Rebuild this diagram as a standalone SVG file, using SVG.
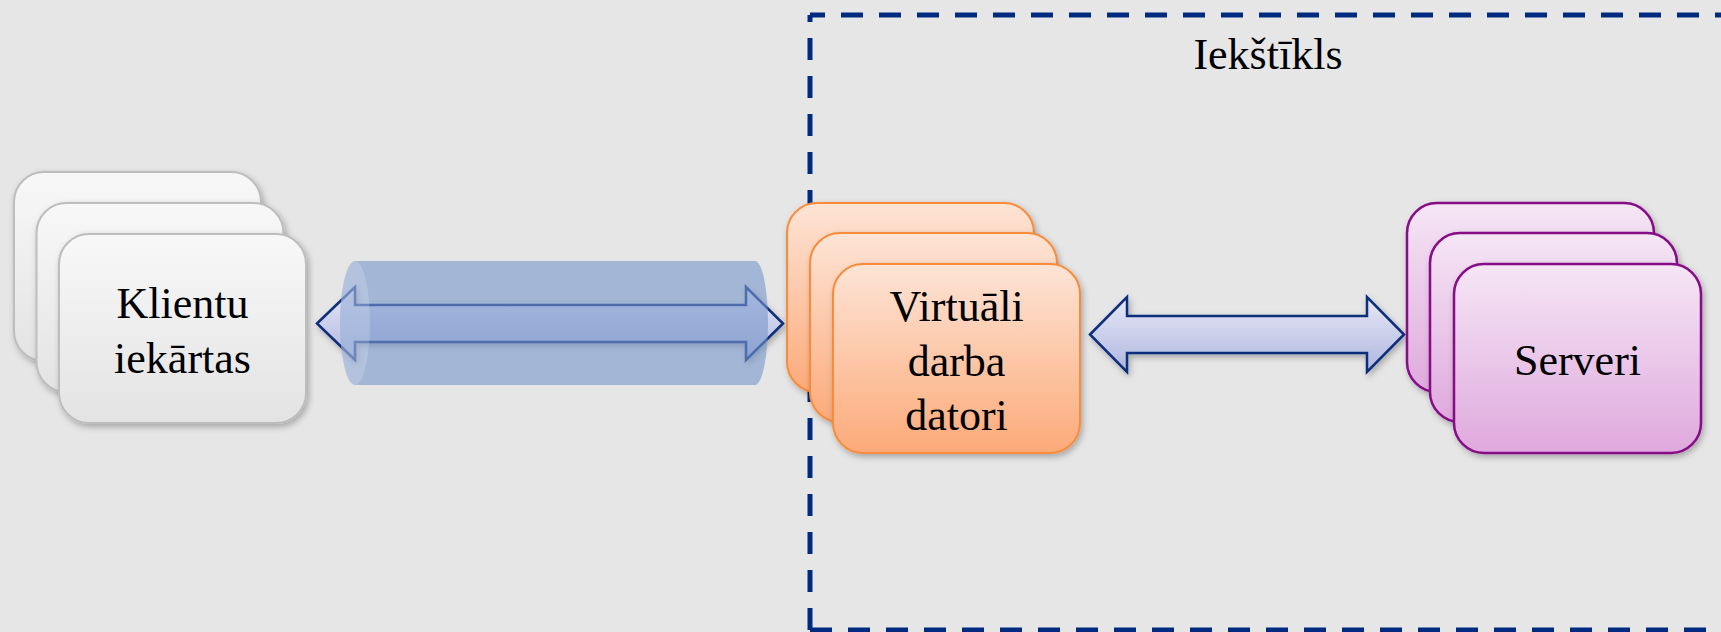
<svg xmlns="http://www.w3.org/2000/svg" width="1721" height="632" viewBox="0 0 1721 632">
<defs>
<linearGradient id="gGrey" x1="0" y1="0" x2="0" y2="1"><stop offset="0" stop-color="#f8f8f8"/><stop offset="1" stop-color="#e3e3e3"/></linearGradient>
<linearGradient id="gOrange" x1="0" y1="0" x2="0" y2="1"><stop offset="0" stop-color="#fde4d6"/><stop offset="1" stop-color="#fcaa79"/></linearGradient>
<linearGradient id="gPurple" x1="0" y1="0" x2="0" y2="1"><stop offset="0" stop-color="#f5e6f5"/><stop offset="1" stop-color="#dfa9dd"/></linearGradient>
<linearGradient id="gArrow" x1="0" y1="0" x2="0" y2="1"><stop offset="0" stop-color="#e8e9f7"/><stop offset="1" stop-color="#adb6de"/></linearGradient>
<filter id="sh" x="-10%" y="-10%" width="125%" height="130%"><feDropShadow dx="2" dy="3" stdDeviation="3" flood-color="#000" flood-opacity="0.28"/></filter>
</defs>
<style>
.bg{fill:#e6e6e6}
.frame{fill:none;stroke:#002a7f;stroke-width:5;stroke-dasharray:22 16}
.card{filter:url(#sh)}
.grey{fill:url(#gGrey);stroke:#bdbdbd;stroke-width:2}
.orange{fill:url(#gOrange);stroke:#f98b3a;stroke-width:2}
.purple{fill:url(#gPurple);stroke:#870a87;stroke-width:2.5}
.lbl{font-family:"Liberation Serif","Times New Roman",serif;font-size:44px;fill:#000;text-anchor:middle}
.arrow{fill:url(#gArrow);filter:url(#sh)}
</style>
<rect class="bg" x="0" y="0" width="1721" height="632"/>

<g id="intranet">
<line class="frame" x1="810" y1="15" x2="1730" y2="15" stroke-dashoffset="7"/>
<line class="frame" x1="810" y1="15" x2="810" y2="630" stroke-dashoffset="15"/>
<line class="frame" x1="810" y1="630" x2="1730" y2="630"/>
<text class="lbl" x="1268" y="69">Iekštīkls</text>
</g>

<g id="connectors">
<g id="tunnel">
<path class="arrow" d="M317,323.5 L355,287 L355,305 L746,305 L746,287 L783,323.5 L746,360 L746,342 L355,342 L355,360 Z" stroke="#0e2d7c" stroke-width="2.5"/>
<path d="M355,261 H755 A13,62 0 0 1 755,385 H355 A15,62 0 0 1 355,261 Z" fill="#7896cb" fill-opacity="0.6"/>
<ellipse cx="355" cy="323" rx="15" ry="62" fill="#ffffff" fill-opacity="0.18"/>
</g>
<path id="link2" class="arrow" d="M1090,334.5 L1127,297 L1127,316 L1367,316 L1367,297 L1404,334.5 L1367,372 L1367,353 L1127,353 L1127,372 Z" stroke="#0e2d7c" stroke-width="2.5" stroke-linejoin="miter"/>
</g>

<g id="clients">
<rect class="card grey" x="14" y="172" width="247" height="189" rx="30"/>
<rect class="card grey" x="36.5" y="203" width="247" height="189" rx="30"/>
<rect class="card grey" x="59" y="234" width="247" height="189" rx="30"/>
<text class="lbl" x="182.5" y="318">Klientu</text>
<text class="lbl" x="182.5" y="373">iekārtas</text>
</g>

<g id="virtual-desktops">
<rect class="card orange" x="787" y="203" width="247" height="189" rx="30"/>
<rect class="card orange" x="810" y="233" width="247" height="189" rx="30"/>
<rect class="card orange" x="833" y="264" width="247" height="189" rx="30"/>
<text class="lbl" x="956.5" y="321">Virtuāli</text>
<text class="lbl" x="956.5" y="375.5">darba</text>
<text class="lbl" x="956.5" y="430">datori</text>
</g>

<g id="servers">
<rect class="card purple" x="1407" y="203" width="247" height="189" rx="30"/>
<rect class="card purple" x="1430" y="233" width="247" height="189" rx="30"/>
<rect class="card purple" x="1454" y="264" width="247" height="189" rx="30"/>
<text class="lbl" x="1577.5" y="375">Serveri</text>
</g>
</svg>
